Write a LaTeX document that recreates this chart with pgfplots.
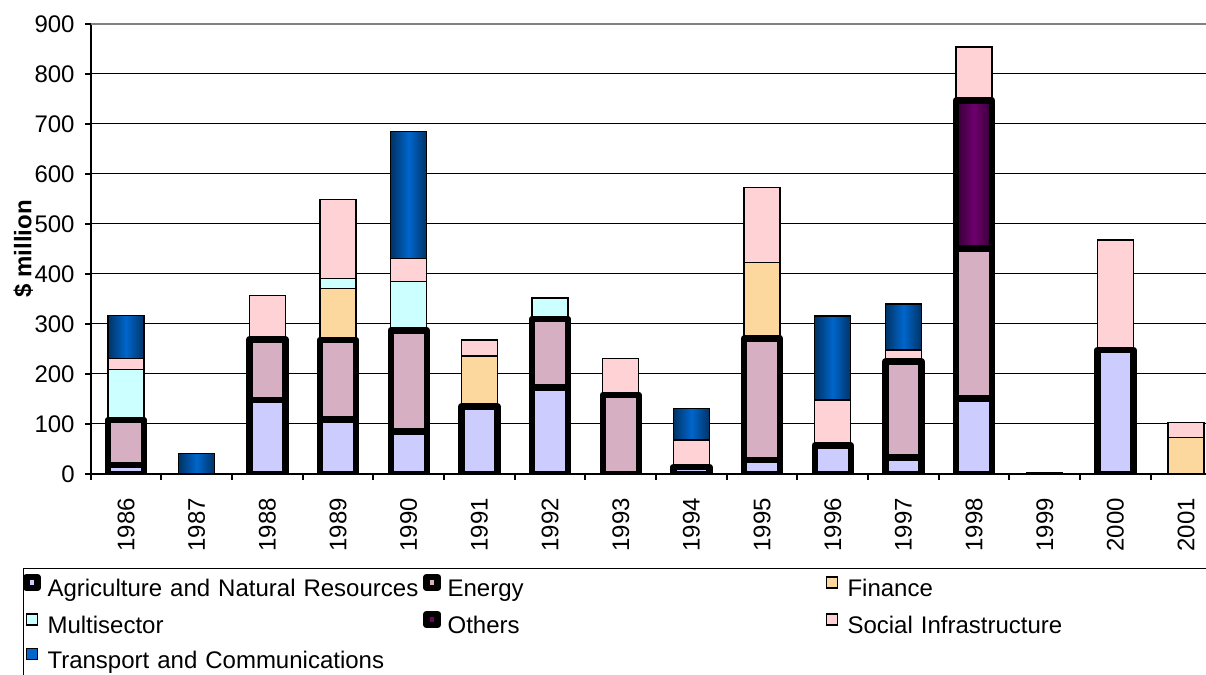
\documentclass[12pt,border=0pt]{standalone}
\usepackage{fontspec}
\setmainfont{Liberation Sans}
\usepackage{pgfplots}
\usepackage{pgfplotstable}
\pgfplotsset{compat=1.18}

\definecolor{agri}{RGB}{204,204,255}
\definecolor{energy}{RGB}{214,176,194}
\definecolor{finance}{RGB}{253,216,158}
\definecolor{multi}{RGB}{204,255,255}
\definecolor{socinf}{RGB}{255,210,214}
\definecolor{transdark}{RGB}{0,51,102}
\definecolor{translight}{RGB}{0,102,204}
\definecolor{othdark}{RGB}{51,0,51}
\definecolor{othlight}{RGB}{110,0,110}
\definecolor{frame}{RGB}{128,128,128}

\newcommand{\twelve}{\fontsize{12}{14}\selectfont}

% Lending by sector, $ million (x = 0 is 1986)
\pgfplotstableread{
x  Agr Ene Fin Mul Oth Soc Tra
0   18  90   0 101   0  22  86
1    0   0   0   0   0   0  41
2  148 121   0   0   0  88   0
3  109 159 103  20   0 158   0
4   85 202   0  98   0  46 254
5  135   0 101   0   0  32   0
6  173 137   0  42   0   0   0
7    0 158   0   0   0  73   0
8   14   0   0   0   0  54  63
9   28 243 152   0   0 150   0
10  57   0   0   0   0  91 168
11  33 192   0   0   0  23  92
12 151 300   0   0 296 107   0
13   0   0   0   0   0   2   0
14 248   0   0   0   0 220   0
15   0   0  73   0   0  30   0
}\sectors

\pgfplotsset{
  thickb/.style={draw=black, line width=3.2pt, line join=round},
  thinb/.style={draw=black, line width=0.65pt},
  seg/.style={ybar, bar width=18pt, bar shift=0pt, forget plot},
  transfill/.style={left color=transdark, right color=transdark, middle color=translight},
  othfill/.style={left color=othdark, right color=othdark, middle color=othlight},
  every tick label/.append style={font=\twelve},
}

\begin{document}
\begin{tikzpicture}[font=\twelve]
\path[use as bounding box] (0pt,0pt) rectangle (603pt,337.5pt);
\begin{scope}
\clip (0pt,0pt) rectangle (603pt,337.5pt);
\begin{axis}[
  at={(45.35pt,100.5pt)}, anchor=south west,
  scale only axis, width=557.6pt, height=225pt,
  xmin=-0.5, xmax=15.28, ymin=0, ymax=900,
  enlargelimits=false,
  axis x line*=bottom, axis y line*=left,
  axis line style={line width=1pt},
  tick align=outside,
  major tick length=2.85pt, minor tick length=2.85pt,
  ytick={0,100,...,900},
  ymajorgrids, major grid style={black, line width=0.5pt},
  y tick style={black, line width=1pt},
  xtick={0,...,15},
  xticklabels={1986,1987,1988,1989,1990,1991,1992,1993,1994,1995,1996,1997,1998,1999,2000,2001},
  minor xtick={-0.5,0.5,...,14.5},
  major x tick style={draw=none},
  minor x tick style={draw=black, line width=1pt},
  /pgf/number format/assume math mode=true,
  yticklabel style={font=\twelve, anchor=east, inner xsep=0pt},
  yticklabel shift=5pt,
  xticklabel style={font=\twelve, rotate=90, anchor=east, inner xsep=0pt},
  xticklabel shift=9pt,
  ylabel={\$ million},
  ylabel style={font=\bfseries\twelve,
    at={(axis description cs:-0.0604,0.5)}, anchor=center},
  legend columns=3,
  legend cell align=left,
  legend image code/.code={
    \path[draw=none, fill=none] (-4.25pt,3.2pt) rectangle (4.75pt,3.2pt);
    \draw[#1] (-2.75pt,0.45pt) rectangle (2.75pt,5.95pt);
  },
  legend style={
    at={(axis description cs:-0.061,-0.2089)}, anchor=north west,
    draw=black, line width=0.65pt,
    inner xsep=0pt, inner ysep=2.6pt,
    row sep=4.9pt,
    font=\twelve,
    nodes={inner sep=0pt, text height=10pt, text depth=2pt,
      text width=186pt, align=left},
    /tikz/every odd column/.append style={column sep=3pt},
    /tikz/every even column/.append style={column sep=1.95pt},
  },
]

% legend entries in sector order
\addlegendimage{thickb, fill=agri}
\addlegendentry{Agriculture and Natural Resources}
\addlegendimage{thickb, fill=energy}
\addlegendentry{Energy}
\addlegendimage{thinb, fill=finance}
\addlegendentry{Finance}
\addlegendimage{thinb, fill=multi}
\addlegendentry{Multisector}
\addlegendimage{thickb, fill=othlight}
\addlegendentry{Others}
\addlegendimage{thinb, fill=socinf}
\addlegendentry{Social Infrastructure}
\addlegendimage{thinb, fill=translight}
\addlegendentry{Transport and Communications}

% stacked columns: each sector drawn from zero up to its running total,
% top sector first so the lower ones cover the shared part.
% Shaded sectors are drawn one year at a time so each column gets its own gradient.
\pgfplotsinvokeforeach{0,1,4,8,10,11}{
\addplot[seg, thinb, transfill, restrict x to domain=#1:#1]
  table[x=x, y expr=\thisrow{Agr}+\thisrow{Ene}+\thisrow{Fin}+\thisrow{Mul}+\thisrow{Oth}+\thisrow{Soc}+\thisrow{Tra}] {\sectors};
}
\addplot[seg, thinb, fill=socinf,
  restrict expr to domain={\thisrow{Soc}}{0.5:100000}]
  table[x=x, y expr=\thisrow{Agr}+\thisrow{Ene}+\thisrow{Fin}+\thisrow{Mul}+\thisrow{Oth}+\thisrow{Soc}] {\sectors};
\pgfplotsinvokeforeach{12}{
\addplot[seg, thickb, othfill, restrict x to domain=#1:#1]
  table[x=x, y expr=\thisrow{Agr}+\thisrow{Ene}+\thisrow{Fin}+\thisrow{Mul}+\thisrow{Oth}] {\sectors};
}
\addplot[seg, thinb, fill=multi,
  restrict expr to domain={\thisrow{Mul}}{0.5:100000}]
  table[x=x, y expr=\thisrow{Agr}+\thisrow{Ene}+\thisrow{Fin}+\thisrow{Mul}] {\sectors};
\addplot[seg, thinb, fill=finance,
  restrict expr to domain={\thisrow{Fin}}{0.5:100000}]
  table[x=x, y expr=\thisrow{Agr}+\thisrow{Ene}+\thisrow{Fin}] {\sectors};
\addplot[seg, thickb, fill=energy,
  restrict expr to domain={\thisrow{Ene}}{0.5:100000}]
  table[x=x, y expr=\thisrow{Agr}+\thisrow{Ene}] {\sectors};
\addplot[seg, thickb, fill=agri,
  restrict expr to domain={\thisrow{Agr}}{0.5:100000}]
  table[x=x, y=Agr] {\sectors};

% plot area frame along the top
\draw[frame, line width=0.8pt] (rel axis cs:0,1) -- (rel axis cs:1,1);
\end{axis}
\end{scope}
\end{tikzpicture}
\end{document}
